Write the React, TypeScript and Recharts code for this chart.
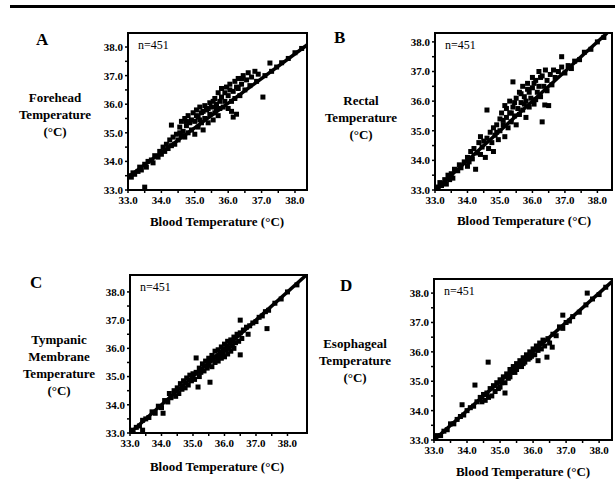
import { ScatterChart, Scatter, XAxis, YAxis, ReferenceLine, ReferenceArea } from 'recharts'

// blood (pulmonary artery) temperature vs site temperature, n=451 per panel
const foreheadPoints: [number, number][] = [
  [33.05, 33.5], [33.1, 33.45], [33.15, 33.6], [33.2, 33.55], [33.3, 33.65], [33.35, 33.8], [33.4, 33.7], [33.5, 33.9],
  [33.5, 33.1], [33.55, 33.8], [33.6, 34.0], [33.7, 34.05], [33.75, 33.95], [33.8, 34.2], [33.9, 34.15], [33.95, 34.35],
  [34.0, 34.25], [34.05, 34.5], [34.1, 34.35], [34.15, 34.6], [34.2, 34.45], [34.25, 34.75], [34.3, 35.27], [34.3, 34.55],
  [34.35, 34.85], [34.4, 34.6], [34.45, 34.95], [34.5, 34.75], [34.55, 35.2], [34.6, 34.9], [34.6, 35.4], [34.65, 35.05],
  [34.7, 35.5], [34.7, 34.85], [34.75, 35.25], [34.8, 35.6], [34.8, 35.0], [34.85, 35.35], [34.9, 35.1], [34.95, 35.7],
  [35.0, 35.4], [35.0, 34.95], [35.05, 35.8], [35.1, 35.2], [35.1, 35.55], [35.15, 35.9], [35.2, 35.35], [35.2, 35.7],
  [35.25, 35.1], [35.3, 35.95], [35.3, 35.5], [35.35, 35.8], [35.4, 35.35], [35.45, 36.05], [35.45, 35.65], [35.5, 35.9],
  [35.55, 35.45], [35.6, 36.2], [35.6, 35.7], [35.65, 36.0], [35.7, 36.4], [35.7, 35.6], [35.75, 35.85], [35.8, 36.25],
  [35.8, 36.55], [35.85, 35.9], [35.9, 36.1], [35.95, 36.6], [36.0, 36.3], [36.0, 35.85], [36.05, 36.7], [36.1, 36.1],
  [36.1, 35.75], [36.15, 36.45], [36.15, 35.55], [36.2, 36.8], [36.2, 36.2], [36.25, 35.65], [36.3, 36.55], [36.3, 36.9],
  [36.35, 36.3], [36.4, 36.7], [36.45, 37.0], [36.5, 36.5], [36.55, 36.85], [36.6, 37.1], [36.65, 36.65], [36.7, 36.95],
  [36.8, 37.15], [36.85, 36.8], [36.9, 37.05], [37.04, 36.25], [37.1, 37.0], [37.25, 37.44], [37.3, 37.15], [37.45, 37.3],
  [37.6, 37.45], [37.8, 37.6], [38.0, 37.8], [38.2, 37.95],
  [34.55, 35.0], [34.9, 35.45], [35.05, 35.6], [35.25, 35.75], [35.4, 35.85], [35.55, 36.1], [35.75, 36.1], [35.9, 36.4],
  [36.05, 36.5], [36.25, 36.6], [36.4, 36.9], [34.75, 35.4], [35.15, 35.45], [35.65, 35.85],
]

const rectalPoints: [number, number][] = [
  [33.05, 33.1], [33.1, 33.0], [33.15, 33.25], [33.2, 33.15], [33.3, 33.35], [33.35, 33.2], [33.4, 33.5], [33.45, 33.35],
  [33.5, 33.55], [33.55, 33.4], [33.6, 33.7], [33.7, 33.65], [33.75, 33.85], [33.8, 33.75], [33.9, 33.95], [34.0, 33.8],
  [34.0, 34.1], [34.05, 33.95], [34.1, 34.3], [34.15, 34.05], [34.2, 34.4], [34.25, 33.7], [34.3, 34.25], [34.35, 34.6],
  [34.4, 34.2], [34.4, 34.8], [34.45, 34.45], [34.5, 34.65], [34.55, 34.1], [34.6, 35.7], [34.6, 34.75], [34.65, 34.4],
  [34.7, 34.95], [34.75, 34.6], [34.8, 35.1], [34.8, 34.3], [34.85, 34.85], [34.9, 35.2], [34.95, 34.7], [35.0, 35.4],
  [35.0, 35.0], [35.05, 35.6], [35.1, 35.2], [35.15, 34.8], [35.15, 35.85], [35.2, 35.45], [35.25, 35.1], [35.3, 36.0],
  [35.3, 35.6], [35.35, 35.3], [35.4, 36.65], [35.4, 35.8], [35.45, 35.5], [35.5, 36.1], [35.5, 35.2], [35.55, 35.75],
  [35.6, 36.3], [35.6, 35.55], [35.65, 35.95], [35.7, 36.5], [35.7, 35.7], [35.75, 36.15], [35.8, 35.45], [35.8, 36.0],
  [35.85, 36.6], [35.9, 36.3], [35.9, 35.8], [35.95, 36.1], [36.0, 36.8], [36.0, 36.45], [36.05, 35.9], [36.1, 36.7],
  [36.15, 36.3], [36.2, 37.0], [36.2, 36.5], [36.25, 36.15], [36.3, 35.3], [36.3, 36.85], [36.35, 36.5], [36.38, 35.87],
  [36.4, 37.05], [36.45, 36.7], [36.5, 35.85], [36.55, 36.9], [36.6, 36.55], [36.65, 37.05], [36.7, 36.8], [36.8, 37.0],
  [36.9, 37.5], [36.9, 37.15], [37.0, 36.95], [37.1, 37.2], [37.2, 37.1], [37.3, 37.35], [37.45, 37.4], [37.6, 37.65],
  [37.8, 37.75], [38.0, 38.0], [38.2, 38.15],
  [35.2, 35.75], [35.45, 35.95], [35.65, 36.25], [35.85, 36.4], [36.05, 36.6], [36.25, 36.8], [35.35, 35.6], [35.75, 35.9],
  [36.1, 36.05], [36.45, 36.35], [34.9, 34.95], [35.1, 35.35],
]

const tympanicPoints: [number, number][] = [
  [33.05, 33.1], [33.1, 33.0], [33.2, 33.2], [33.3, 33.25], [33.4, 33.1], [33.4, 33.45], [33.5, 33.5], [33.6, 33.55],
  [33.7, 33.75], [33.8, 33.7], [33.9, 33.95], [34.0, 33.9], [34.05, 33.7], [34.1, 34.15], [34.2, 34.1], [34.25, 34.4],
  [34.3, 34.25], [34.4, 34.5], [34.45, 34.3], [34.5, 34.6], [34.55, 34.4], [34.6, 34.75], [34.65, 34.55], [34.7, 34.85],
  [34.75, 34.6], [34.8, 34.95], [34.85, 34.7], [34.9, 35.05], [34.95, 34.85], [35.0, 35.1], [35.05, 34.9], [35.1, 35.66],
  [35.1, 35.15], [35.16, 34.63], [35.2, 35.3], [35.2, 35.0], [35.25, 35.15], [35.3, 35.45], [35.35, 35.2], [35.4, 35.55],
  [35.45, 35.3], [35.5, 35.65], [35.5, 35.4], [35.54, 34.8], [35.55, 35.55], [35.6, 35.75], [35.6, 35.35], [35.65, 35.6],
  [35.7, 35.9], [35.7, 35.5], [35.75, 35.7], [35.8, 35.95], [35.8, 35.55], [35.85, 35.75], [35.9, 36.05], [35.9, 35.65],
  [35.95, 35.85], [36.0, 36.15], [36.0, 35.7], [36.05, 35.95], [36.1, 36.25], [36.1, 35.8], [36.15, 36.0], [36.2, 36.3],
  [36.2, 35.9], [36.25, 36.1], [36.3, 36.4], [36.3, 36.0], [36.35, 36.2], [36.4, 36.5], [36.45, 36.25], [36.5, 37.0],
  [36.5, 35.77], [36.5, 36.55], [36.55, 36.35], [36.6, 36.65], [36.7, 36.75], [36.75, 36.5], [36.8, 36.8], [36.9, 36.9],
  [37.0, 36.95], [37.1, 37.1], [37.2, 37.15], [37.35, 36.7], [37.3, 37.3], [37.4, 37.35], [37.6, 37.6], [37.8, 37.75],
  [38.0, 38.0], [38.3, 38.25],
]

const esophagealPoints: [number, number][] = [
  [33.05, 33.05], [33.1, 33.15], [33.2, 33.15], [33.3, 33.3], [33.4, 33.35], [33.5, 33.55], [33.6, 33.55], [33.7, 33.7],
  [33.8, 33.8], [33.85, 34.2], [33.9, 33.85], [34.0, 34.0], [34.1, 34.1], [34.2, 34.15], [34.24, 34.87], [34.3, 34.3],
  [34.4, 34.45], [34.45, 34.3], [34.5, 34.55], [34.55, 34.35], [34.6, 34.6], [34.64, 35.65], [34.65, 34.45], [34.7, 34.75],
  [34.75, 34.5], [34.8, 34.85], [34.85, 34.65], [34.9, 34.95], [34.95, 34.75], [35.0, 35.05], [35.0, 34.8], [35.05, 34.95],
  [35.1, 35.15], [35.15, 34.6], [35.15, 34.95], [35.2, 35.25], [35.25, 35.1], [35.3, 35.4], [35.3, 35.15], [35.35, 35.3],
  [35.4, 35.5], [35.45, 35.3], [35.5, 35.6], [35.5, 35.4], [35.55, 35.5], [35.6, 35.7], [35.65, 35.5], [35.7, 35.8],
  [35.7, 35.6], [35.75, 35.65], [35.8, 35.9], [35.85, 35.75], [35.9, 36.0], [35.9, 35.8], [35.95, 35.85], [36.0, 36.1],
  [36.05, 35.9], [36.1, 36.2], [36.15, 35.7], [36.15, 36.05], [36.2, 36.3], [36.25, 36.1], [36.3, 36.4], [36.35, 36.2],
  [36.42, 35.82], [36.45, 36.45], [36.5, 36.3], [36.58, 36.16], [36.6, 36.6], [36.7, 36.55], [36.8, 36.85], [36.9, 37.25],
  [36.9, 36.8], [37.0, 37.0], [37.1, 37.05], [37.2, 37.2], [37.4, 37.35], [37.64, 38.0], [37.6, 37.6], [37.8, 37.8],
  [38.0, 37.95], [38.2, 38.2],
]

// regression / identity lines: [blood, site] end points
const foreheadLine: [number, number][] = [[33, 33.45], [38.36, 38.07]]
const rectalLine: [number, number][] = [[33, 33.0], [38.3, 38.3]]
const tympanicLine: [number, number][] = [[33, 33.0], [38.6, 38.6]]
const esophagealLine: [number, number][] = [[33, 33.0], [38.39, 38.39]]

const axisTicks = [33, 33.5, 34, 34.5, 35, 35.5, 36, 36.5, 37, 37.5, 38]
const panelLetters = ['A', 'B', 'C', 'D']
const siteLabels = [
  ['Forehead', 'Temperature', '(°C)'],
  ['Rectal', 'Temperature', '(°C)'],
  ['Tympanic', 'Membrane', 'Temperature', '(°C)'],
  ['Esophageal', 'Temperature', '(°C)'],
]
const xAxisLabel = 'Blood Temperature (°C)'
const sampleLabel = 'n=451'

const SERIF = '"Liberation Serif", "DejaVu Serif", serif'

// page layout per panel: plot box [left, top, right, bottom], axis max, label spots
const layout = [
  { box: [128, 33, 307, 190], xMax: 38.36, yMax: 38.49, letter: [36, 30], ylab: [55, 98], xlab: [217, 223] },
  { box: [435, 33, 612, 190], xMax: 38.45, yMax: 38.3, letter: [334, 28], ylab: [361, 101], xlab: [524, 222] },
  { box: [130, 275, 307, 433], xMax: 38.62, yMax: 38.6, letter: [30, 273], ylab: [59, 340], xlab: [217, 468] },
  { box: [434, 279, 612, 440], xMax: 38.39, yMax: 38.48, letter: [340, 276], ylab: [355, 344], xlab: [523, 473] },
]

const seriesList = [foreheadPoints, rectalPoints, tympanicPoints, esophagealPoints]
const lineList = [foreheadLine, rectalLine, tympanicLine, esophagealLine]

const fmt = (v: number) => (v % 1 === 0 ? v.toFixed(1) : '')

const Square = (props: any) => {
  const { cx, cy } = props
  if (cx == null || cy == null) return null
  return <rect x={cx - 2.5} y={cy - 2.5} width={5} height={5} fill="#000" />
}

const tickStyle = { fill: '#000', fontSize: 11, fontWeight: 700, fontFamily: SERIF }

function Panel({ index }: { index: number }) {
  const l = layout[index]
  const [bl, bt, br, bb] = l.box
  const w = br - bl
  const h = bb - bt
  const data = seriesList[index].map(([x, y]) => ({ x, y }))
  const seg = lineList[index].map(([x, y]) => ({ x, y }))
  return (
    <>
      <div style={{ position: 'absolute', left: bl - 45, top: bt - 5 }}>
        <ScatterChart width={w + 50} height={h + 30} margin={{ top: 5, right: 5, bottom: 0, left: 5 }}>
          <XAxis
            type="number"
            dataKey="x"
            domain={[33, l.xMax]}
            ticks={axisTicks}
            interval={0}
            allowDataOverflow
            tickFormatter={fmt}
            height={25}
            tickSize={3}
            tickMargin={3}
            axisLine={{ stroke: '#000', strokeWidth: 2 }}
            tickLine={{ stroke: '#000', strokeWidth: 1.5 }}
            tick={tickStyle}
          />
          <YAxis
            type="number"
            dataKey="y"
            domain={[33, l.yMax]}
            ticks={axisTicks}
            interval={0}
            allowDataOverflow
            tickFormatter={fmt}
            width={40}
            tickSize={3}
            tickMargin={2}
            axisLine={{ stroke: '#000', strokeWidth: 2 }}
            tickLine={{ stroke: '#000', strokeWidth: 1.5 }}
            tick={tickStyle}
          />
          <ReferenceArea x1={33} x2={l.xMax} y1={33} y2={l.yMax} fill="none" stroke="#000" strokeWidth={2} />
          <ReferenceLine segment={seg} stroke="#000" strokeWidth={3.5} ifOverflow="hidden" />
          <Scatter data={data} shape={Square} fill="#000" isAnimationActive={false} />
        </ScatterChart>
      </div>
      <div style={{ position: 'absolute', left: bl + 10, top: bt + 5, fontFamily: SERIF, fontSize: 12 }}>{sampleLabel}</div>
      <div style={{ position: 'absolute', left: l.letter[0], top: l.letter[1], fontFamily: SERIF, fontWeight: 700, fontSize: 17 }}>
        {panelLetters[index]}
      </div>
      <div
        style={{
          position: 'absolute',
          left: l.ylab[0] - 60,
          top: l.ylab[1] - 9,
          width: 120,
          textAlign: 'center',
          fontFamily: SERIF,
          fontWeight: 700,
          fontSize: 13,
          lineHeight: '17px',
        }}
      >
        {siteLabels[index].map((s) => (
          <div key={s}>{s}</div>
        ))}
      </div>
      <div
        style={{
          position: 'absolute',
          left: l.xlab[0] - 100,
          top: l.xlab[1] - 9,
          width: 200,
          textAlign: 'center',
          fontFamily: SERIF,
          fontWeight: 700,
          fontSize: 13,
        }}
      >
        {xAxisLabel}
      </div>
    </>
  )
}

export default function App() {
  return (
    <div style={{ position: 'absolute', left: 0, top: 0, width: 615, height: 487, background: '#fff', overflow: 'hidden' }}>
      <div style={{ position: 'absolute', left: 10, top: 5, width: 605, height: 3, background: '#000' }} />
      {[0, 1, 2, 3].map((i) => (
        <Panel key={i} index={i} />
      ))}
    </div>
  )
}
